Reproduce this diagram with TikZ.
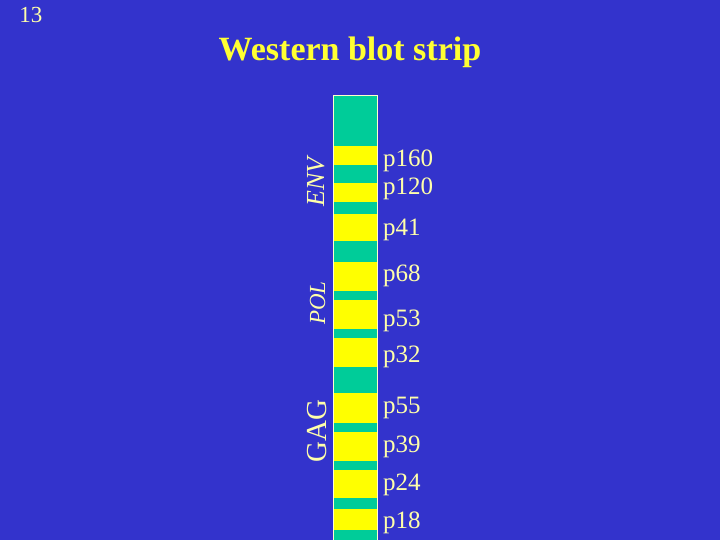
\documentclass[tikz,border=0pt]{standalone}
\usepackage{fontspec}
\setmainfont{Liberation Serif}
\usetikzlibrary{positioning}
\definecolor{slideblue}{RGB}{51,51,204}
\definecolor{bandgreen}{RGB}{0,204,153}
\definecolor{stripyellow}{RGB}{255,255,0}
\definecolor{titleyellow}{RGB}{255,255,51}
\definecolor{labelyellow}{RGB}{255,255,170}

\begin{document}
\begin{tikzpicture}[
  x=1pt, y=-1pt,
  bandlabel/.style={text=labelyellow, anchor=base west, inner sep=0pt, font=\fontsize{25}{27}\selectfont},
  grouplabel/.style={text=labelyellow, rotate=90, anchor=base, inner sep=0pt}
]
  \fill[slideblue] (0,0) rectangle (720,540);
  \useasboundingbox (0,0) rectangle (720,540);
  \node[text=labelyellow, anchor=base, inner sep=0pt, font=\fontsize{23}{25}\selectfont] (num) at (31,23) {13};
  \node[text=titleyellow, anchor=base, inner sep=0pt, font=\bfseries\fontsize{34}{38}\selectfont] (title) at (350,61) {Western blot strip};
  % strip and bands
  \fill[stripyellow] (333,95) rectangle (377,540);
  \foreach \top/\bot in {95/146, 165/183, 202/214, 241/262, 291/300, 329/338,
                         367/393, 423/432, 461/470, 498/509, 530/540}
    \fill[bandgreen] (333,\top) rectangle (377,\bot);
  \draw[labelyellow!60, line width=0.6pt] (333,540) -- (333,95) -- (377,95) -- (377,540);
  % band names
  \node[bandlabel] (p160) at (383,167) {p160};
  \node[bandlabel] (p120) at (383,195) {p120};
  \node[bandlabel] (p41) at (383,236) {p41};
  \node[bandlabel] (p68) at (383,281) {p68};
  \node[bandlabel] (p53) at (383,326) {p53};
  \node[bandlabel] (p32) at (383,362) {p32};
  \node[bandlabel] (p55) at (383,413) {p55};
  \node[bandlabel] (p39) at (383,452) {p39};
  \node[bandlabel] (p24) at (383,490) {p24};
  \node[bandlabel] (p18) at (383,528) {p18};
  % gene groups
  \node[grouplabel, font=\itshape\fontsize{26}{28}\selectfont] (env) at (324,182) {ENV};
  \node[grouplabel, font=\itshape\fontsize{23}{25}\selectfont] (pol) at (325,303) {POL};
  \node[grouplabel, font=\fontsize{29}{31}\selectfont] (gag) at (326,431) {GAG};
\end{tikzpicture}
\end{document}
